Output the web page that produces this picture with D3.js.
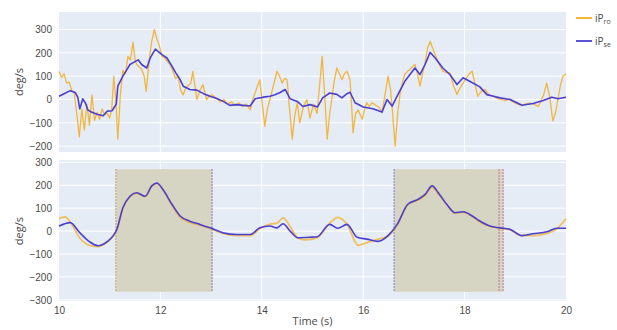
<!DOCTYPE html>
<html lang="en">
<head>
  <meta charset="UTF-8">
  <title>iP chart</title>
  <script src="https://d3js.org/d3.v7.min.js"></script>
  <style>
    body { margin: 0; background: #fff; font-family: "Open Sans", sans-serif; }
    .tick text { fill: #4a4a4a; font-size: 10px; }
    .lbl { fill: #4a4a4a; font-size: 11px; }
  </style>
</head>
<body>
<div id="chart"></div>
<script>
  // --- data ---
  const rawTopT = [10.00,10.05,10.10,10.15,10.20,10.25,10.30,10.35,10.40,10.45,10.50,10.55,10.60,10.65,10.70,10.75,10.80,10.85,10.90,10.95,11.00,11.04,11.08,11.12,11.16,11.21,11.26,11.31,11.36,11.41,11.46,11.50,11.53,11.58,11.63,11.68,11.72,11.78,11.83,11.88,11.93,11.98,12.03,12.08,12.13,12.19,12.25,12.30,12.35,12.40,12.45,12.50,12.55,12.60,12.64,12.68,12.72,12.78,12.84,12.91,12.96,13.02,13.10,13.18,13.25,13.32,13.40,13.48,13.55,13.62,13.70,13.77,13.82,13.87,13.96,14.01,14.06,14.11,14.16,14.23,14.30,14.35,14.40,14.45,14.50,14.55,14.60,14.65,14.70,14.75,14.82,14.89,14.95,15.02,15.09,15.14,15.19,15.24,15.29,15.34,15.38,15.43,15.48,15.53,15.58,15.63,15.68,15.74,15.77,15.80,15.85,15.90,15.98,16.03,16.07,16.12,16.17,16.22,16.27,16.32,16.37,16.43,16.49,16.54,16.58,16.63,16.68,16.73,16.78,16.82,16.87,16.92,16.97,17.02,17.07,17.12,17.17,17.22,17.27,17.32,17.37,17.42,17.50,17.57,17.64,17.71,17.78,17.85,17.91,17.97,18.03,18.09,18.15,18.20,18.26,18.33,18.40,18.48,18.56,18.64,18.72,18.80,18.88,18.96,19.04,19.12,19.20,19.28,19.36,19.45,19.50,19.56,19.62,19.68,19.74,19.79,19.84,19.89,19.94,20.00];
  const rawTopV = [120,95,110,70,75,40,30,-60,-160,-40,-130,-20,-110,20,-90,-55,-85,-40,-65,-60,-80,-40,100,0,-170,20,125,110,185,170,245,170,150,140,130,100,35,170,250,300,260,230,185,180,165,150,120,90,100,40,20,50,60,70,120,60,0,40,64,0,15,20,5,-10,0,-20,-10,-25,-15,-30,-20,-45,0,30,85,-20,-115,-40,0,60,121,100,70,90,85,-50,-170,-70,-14,-100,-30,0,-80,-20,-60,60,185,20,-170,-60,0,80,135,110,85,110,121,85,-20,-142,-60,-45,-85,-40,-14,-30,-14,-20,-28,-35,-57,20,100,40,-60,-200,-60,28,80,107,120,128,140,150,110,57,110,157,220,250,220,192,150,121,115,114,60,21,50,70,90,110,121,70,14,35,43,20,15,5,0,-5,0,-10,-20,-25,-20,-15,-20,-30,-10,20,70,10,-92,-60,0,60,100,110];

  const estTopT = [10.00,10.10,10.22,10.32,10.37,10.41,10.47,10.52,10.57,10.65,10.75,10.87,10.95,11.05,11.10,11.13,11.16,11.26,11.33,11.40,11.48,11.56,11.63,11.73,11.80,11.90,12.03,12.13,12.23,12.30,12.39,12.45,12.58,12.72,12.85,12.98,13.10,13.23,13.37,13.50,13.63,13.77,13.87,14.03,14.16,14.26,14.36,14.46,14.56,14.66,14.71,14.81,14.95,15.10,15.20,15.34,15.48,15.58,15.68,15.74,15.84,16.00,16.19,16.37,16.47,16.57,16.67,16.82,17.02,17.12,17.22,17.32,17.42,17.57,17.71,17.85,17.97,18.10,18.30,18.44,18.55,18.70,18.90,19.13,19.35,19.55,19.72,19.84,20.00];
  const estTopV = [14,25,38,30,10,-40,3,-15,-45,-55,-63,-70,-50,-48,-30,-20,57,100,125,150,160,170,150,135,178,216,192,178,142,115,85,57,43,40,25,14,5,-7,-25,-22,-25,-28,3,10,14,20,30,43,3,-5,-10,-30,-22,-32,7,28,22,7,25,31,-14,-32,-40,-54,0,-28,14,78,135,107,150,202,178,135,107,64,93,78,54,21,15,7,0,-25,-17,-4,10,3,10];

  const estBotT = [10.00,10.22,10.41,10.60,10.77,10.95,11.07,11.14,11.26,11.40,11.53,11.70,11.83,11.93,12.05,12.23,12.39,12.58,12.78,12.98,13.23,13.51,13.77,13.96,14.16,14.30,14.42,14.56,14.71,14.95,15.09,15.34,15.50,15.68,15.88,16.07,16.29,16.49,16.67,16.88,17.08,17.22,17.36,17.48,17.65,17.81,17.97,18.15,18.30,18.50,18.70,18.90,19.13,19.35,19.62,19.82,20.00];
  const estBotV = [22,37,-7,-46,-64,-46,-20,7,102,152,167,152,197,210,181,116,66,43,29,14,-7,-15,-15,14,22,14,32,0,-29,-27,-25,29,12,29,-27,-35,-45,-20,29,117,138,160,197,167,116,80,84,66,44,22,14,7,-20,-12,-3,12,12];

  const rawBotT = [10.00,10.12,10.25,10.41,10.60,10.77,10.95,11.07,11.14,11.26,11.40,11.53,11.70,11.83,11.93,12.05,12.23,12.39,12.58,12.78,12.98,13.23,13.51,13.77,13.96,14.16,14.30,14.42,14.56,14.71,14.85,15.09,15.34,15.50,15.68,15.90,16.07,16.29,16.49,16.67,16.88,17.08,17.22,17.36,17.48,17.65,17.81,17.97,18.15,18.30,18.50,18.70,18.90,19.13,19.35,19.62,19.82,20.00];
  const rawBotV = [55,62,30,-30,-62,-68,-48,-22,5,100,150,165,150,195,208,180,112,60,38,26,12,-10,-20,-20,10,30,35,58,20,-30,-38,-30,35,60,30,-62,-50,-35,-22,25,115,135,155,192,162,115,78,82,64,40,20,12,5,-20,-20,-10,10,55];

  const shadeStart = [11.12, 16.61];
  const shadeEnd = [13.02, 18.76];
  const markerT = [11.12, 13.02, 16.61, 18.68, 18.76];
  const markerColor = ["#c8a070", "#8a78a8", "#7c7cc8", "#c07090", "#c07090"];

  const xTicks = [10, 12, 14, 16, 18, 20];
  const topTicks = [-200, -100, 0, 100, 200, 300];
  const botTicks = [-300, -200, -100, 0, 100, 200, 300];
  const names = ["ro", "se"];
  const colRaw = "#f6ac1c", colEst = "#4a3fd0";

  // --- layout ---
  const W = 617, H = 330;
  const svg = d3.select("#chart").append("svg").attr("width", W).attr("height", H);
  const x = d3.scaleLinear().domain([10, 20]).range([59, 566]);
  const yTop = d3.scaleLinear().domain([-225, 375]).range([152, 12]);
  const yBot = d3.scaleLinear().domain([-305, 310]).range([301, 160]);

  const fmt = d => d < 0 ? "\u2212" + Math.abs(d) : d;

  function panel(y, ticks) {
    const [y0, y1] = y.range();
    svg.append("rect").attr("x", x(10)).attr("y", y1)
      .attr("width", x(20) - x(10)).attr("height", y0 - y1).attr("fill", "#e5ecf6");
    svg.append("g").selectAll("line").data(xTicks.slice(1, -1)).join("line")
      .attr("x1", d => x(d)).attr("x2", d => x(d)).attr("y1", y1).attr("y2", y0)
      .attr("stroke", "#fff").attr("stroke-width", 1);
    svg.append("g").selectAll("line").data(ticks).join("line")
      .attr("x1", x(10)).attr("x2", x(20)).attr("y1", d => y(d)).attr("y2", d => y(d))
      .attr("stroke", "#fff").attr("stroke-width", 1);
    const ax = svg.append("g").attr("transform", `translate(${x(10) - 4},0)`)
      .call(d3.axisLeft(y).tickValues(ticks).tickFormat(fmt).tickSize(0));
    ax.select(".domain").remove();
    return ax;
  }

  panel(yTop, topTicks);
  panel(yBot, botTicks);

  // shaded phases on the bottom panel
  svg.append("g").selectAll("rect").data(shadeStart).join("rect")
    .attr("x", d => x(d)).attr("width", (d, i) => x(shadeEnd[i]) - x(d))
    .attr("y", yBot(270)).attr("height", yBot(-265) - yBot(270))
    .attr("fill", "#d6d4c2");
  svg.append("g").selectAll("line").data(markerT).join("line")
    .attr("x1", d => x(d)).attr("x2", d => x(d))
    .attr("y1", yBot(270)).attr("y2", yBot(-265))
    .attr("stroke", (d, i) => markerColor[i]).attr("stroke-width", 1.3)
    .attr("stroke-dasharray", "1.5,1.5");

  function drawLine(y, ts, vs, color, w, op, curve) {
    const line = d3.line().x(d => x(d[0])).y(d => y(d[1])).curve(curve);
    svg.append("path").datum(ts.map((t, i) => [t, vs[i]]))
      .attr("d", line).attr("fill", "none").attr("stroke", color)
      .attr("stroke-width", w).attr("stroke-opacity", op).attr("stroke-linejoin", "round");
  }

  drawLine(yTop, rawTopT, rawTopV, colRaw, 1.3, 0.85, d3.curveLinear);
  drawLine(yTop, estTopT, estTopV, colEst, 1.6, 1, d3.curveLinear);
  drawLine(yBot, rawBotT, rawBotV, colRaw, 1.8, 0.7, d3.curveMonotoneX);
  drawLine(yBot, estBotT, estBotV, colEst, 1.6, 1, d3.curveMonotoneX);

  // x axis
  const xa = svg.append("g").attr("transform", `translate(0,${yBot.range()[0] + 3})`)
    .call(d3.axisBottom(x).tickValues(xTicks).tickSize(0));
  xa.select(".domain").remove();

  // axis titles
  svg.append("text").attr("class", "lbl").attr("text-anchor", "middle")
    .attr("transform", `translate(23,${yTop(75)}) rotate(-90)`).text("deg/s");
  svg.append("text").attr("class", "lbl").attr("text-anchor", "middle")
    .attr("transform", `translate(23,${yBot(0)}) rotate(-90)`).text("deg/s");
  svg.append("text").attr("class", "lbl").attr("text-anchor", "middle")
    .attr("x", (x(10) + x(20)) / 2).attr("y", 325).text("Time (s)");

  // legend
  const lg = svg.append("g").attr("transform", "translate(576,18)");
  [colRaw, colEst].forEach((c, i) => {
    const g = lg.append("g").attr("transform", `translate(0,${i * 23})`);
    g.append("line").attr("x1", 0).attr("x2", 16).attr("stroke", c).attr("stroke-width", 1.8);
    const t = g.append("text").attr("x", 19).attr("y", 4).attr("fill", "#4a4a4a").attr("font-size", 10);
    t.append("tspan").text("iP");
    t.append("tspan").attr("font-size", 7).attr("dy", 2).text(names[i]);
  });
</script>
</body>
</html>
